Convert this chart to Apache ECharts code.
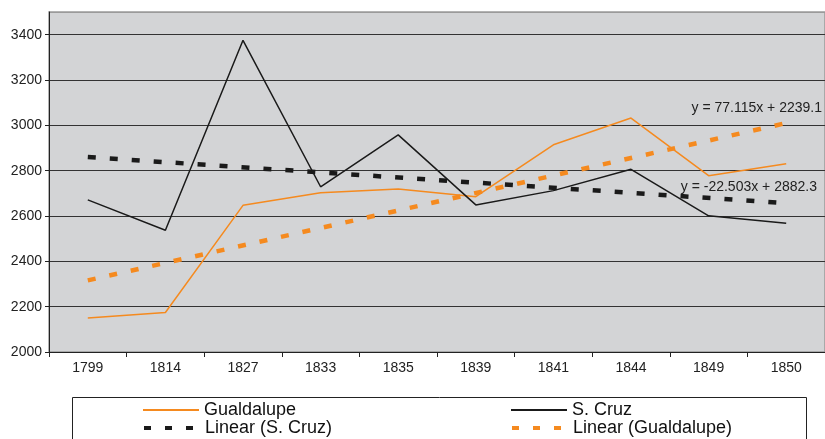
<!DOCTYPE html>
<html>
<head>
<meta charset="utf-8">
<script src="https://cdn.jsdelivr.net/npm/echarts@6/dist/echarts.min.js"></script>
<style>
    html, body { margin: 0; padding: 0; background: #fff; }
    #chart { width: 825px; height: 439px; }
</style>
</head>
<body>
<div id="chart"></div>
<script>
// data
var years = ['1799', '1814', '1827', '1833', '1835', '1839', '1841', '1844', '1849', '1850'];
var gualdalupe = [2150, 2174, 2647, 2703, 2719, 2685, 2914, 3032, 2778, 2831];
var sCruz = [2671, 2537, 3375, 2729, 2958, 2649, 2712, 2806, 2601, 2568];
// trend lines: only the two end points, joined
var gualTrend = [2316, null, null, null, null, null, null, null, null, 3010];
var cruzTrend = [2860, null, null, null, null, null, null, null, null, 2657];
var gualEq = 'y = 77.115x + 2239.1';
var cruzEq = 'y = -22.503x + 2882.3';

var orange = '#f58a1f';
var black = '#1a1a1a';
var font = "'Liberation Sans', Arial, sans-serif";

function oneLegend(name, left, top, dashed) {
    var lg = {
        data: [name],
        left: left,
        top: top,
        padding: 0,
        orient: 'horizontal',
        itemWidth: 56,
        itemHeight: 18,
        selectedMode: false,
        itemStyle: {opacity: 0},
        textStyle: {fontFamily: font, fontSize: 18, color: '#111', lineHeight: 18}
    };
    if (dashed) {
        // three short dashes in the key
        lg.lineStyle = {type: [7, 14], width: 4, cap: 'butt'};
    }
    return lg;
}

var option = {
    backgroundColor: '#fff',
    animation: false,
    grid: {
        left: 49,
        top: 12,
        width: 779,
        height: 340,
        show: true,
        backgroundColor: '#d3d4d6',
        borderColor: '#9a9a9a',
        borderWidth: 1.5
    },
    legend: [
        oneLegend('Gualdalupe', 142, 401, false),
        oneLegend('S. Cruz', 510, 401, false),
        oneLegend('Linear (S. Cruz)', 142, 419, true),
        oneLegend('Linear (Gualdalupe)', 510, 419, true)
    ],
    xAxis: {
        type: 'category',
        data: years,
        boundaryGap: true,
        axisLine: {lineStyle: {color: '#222', width: 1}},
        axisTick: {show: true, length: 5, lineStyle: {color: '#222'}},
        axisLabel: {fontFamily: font, fontSize: 14, color: '#222', margin: 9}
    },
    yAxis: {
        type: 'value',
        min: 2000,
        max: 3500,
        interval: 200,
        axisLine: {show: true, lineStyle: {color: '#222', width: 1}},
        axisTick: {show: true, length: 4, lineStyle: {color: '#222'}},
        axisLabel: {
            fontFamily: font, fontSize: 14, color: '#222', margin: 7, showMaxLabel: false,
            formatter: function (v) { return String(v); }
        },
        splitLine: {
            show: true,
            lineStyle: {
                color: ['#333', '#333', '#333', '#333', '#333', '#333', '#333', '#333', '#9a9a9a'],
                width: 1
            }
        }
    },
    series: [
        {
            name: 'Gualdalupe',
            type: 'line',
            data: gualdalupe,
            symbol: 'none',
            lineStyle: {color: orange, width: 1.5},
            itemStyle: {color: orange},
            z: 3
        },
        {
            name: 'S. Cruz',
            type: 'line',
            data: sCruz,
            symbol: 'none',
            lineStyle: {color: black, width: 1.5},
            itemStyle: {color: black},
            z: 3
        },
        {
            name: 'Linear (S. Cruz)',
            type: 'line',
            data: cruzTrend,
            connectNulls: true,
            symbol: 'none',
            lineStyle: {color: black, width: 4.5, type: [8, 14], cap: 'butt'},
            itemStyle: {color: black},
            z: 2
        },
        {
            name: 'Linear (Gualdalupe)',
            type: 'line',
            data: gualTrend,
            connectNulls: true,
            symbol: 'none',
            lineStyle: {color: orange, width: 4.5, type: [8, 14], cap: 'butt'},
            itemStyle: {color: orange},
            z: 2
        }
    ],
    graphic: [
        {
            type: 'rect',
            shape: {x: 72.5, y: 397.5, width: 734, height: 60},
            style: {fill: 'none', stroke: '#222', lineWidth: 1},
            silent: true
        },
        {
            type: 'text',
            x: 822,
            y: 108,
            style: {text: gualEq, font: '14px ' + font, fill: '#222', textAlign: 'right', textVerticalAlign: 'middle'},
            z: 10
        },
        {
            type: 'text',
            x: 817,
            y: 187,
            style: {text: cruzEq, font: '14px ' + font, fill: '#222', textAlign: 'right', textVerticalAlign: 'middle'},
            z: 10
        }
    ]
};

var myChart = echarts.init(document.getElementById('chart'));
myChart.setOption(option);
</script>
</body>
</html>
